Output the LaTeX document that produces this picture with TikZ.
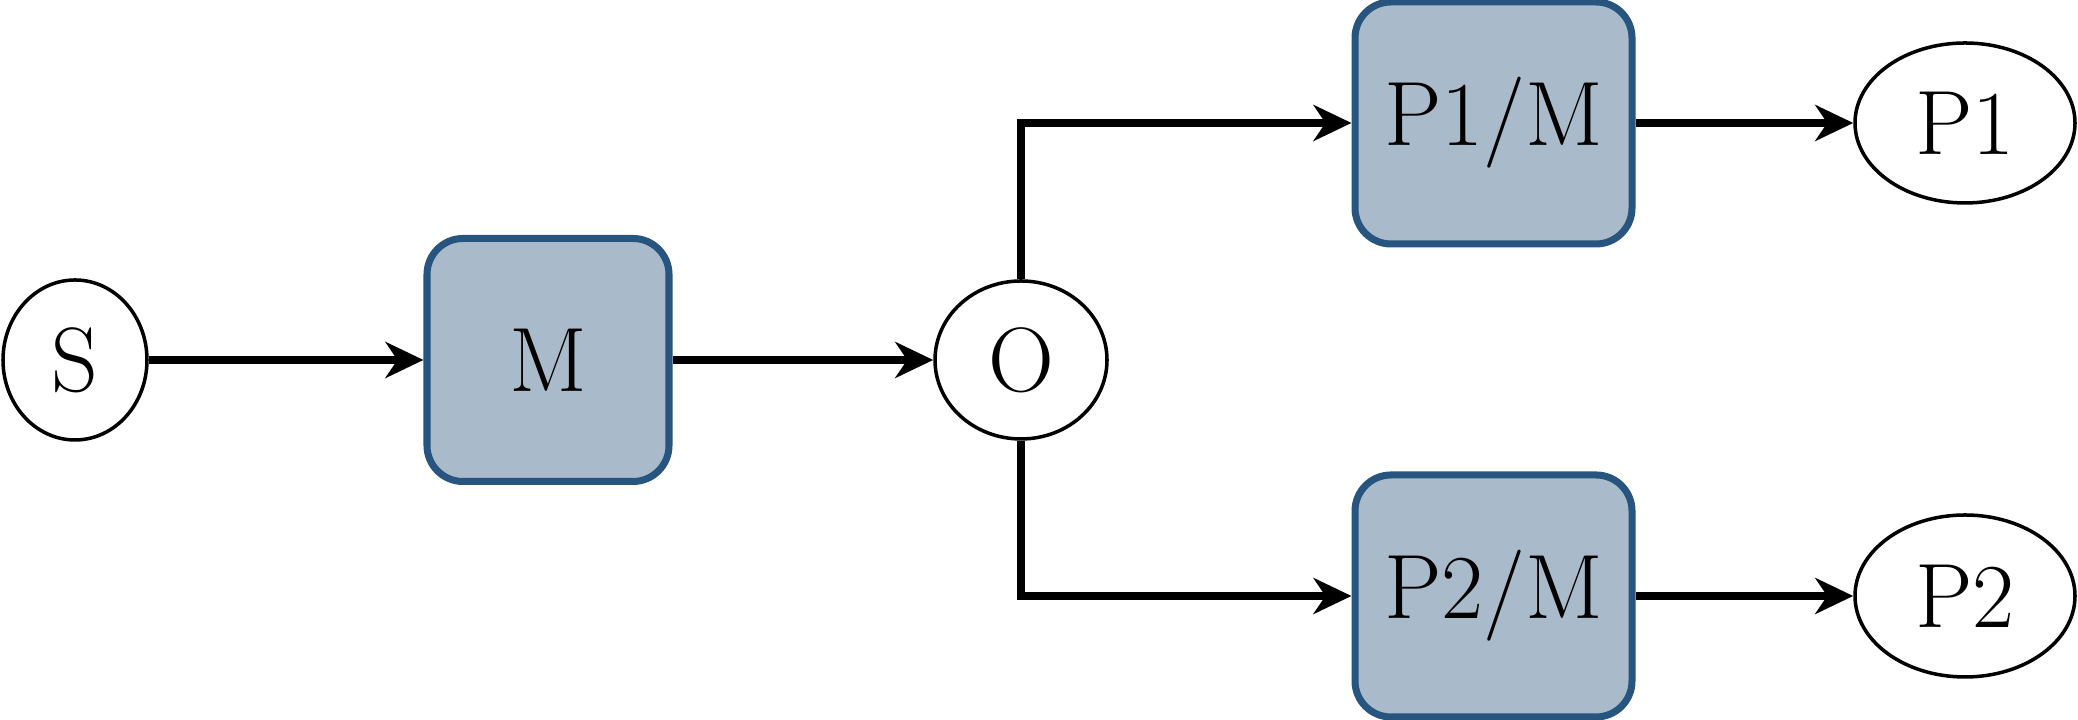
\documentclass[tikz,border=0pt]{standalone}
\usetikzlibrary{shapes.geometric,arrows.meta}
\definecolor{boxfill}{HTML}{A9BBCA}
\definecolor{boxline}{HTML}{27557F}
\begin{document}
\begin{tikzpicture}[>={Stealth[length=3.8mm,width=3.6mm,inset=1.2mm]},
    font=\fontsize{26}{31}\selectfont,
    blk/.style={draw=boxline, fill=boxfill, line width=2pt, rounded corners=3.6mm, inner sep=0pt},
    ell/.style={draw, ellipse, line width=1pt, inner sep=0pt},
    conn/.style={->, line width=2.1pt}]
    \useasboundingbox (0,0) rectangle (20.78,7.2);
    \node[ell, minimum width=1.44cm, minimum height=1.6cm] (S) at (0.75,3.6) {S};
    \node[blk, minimum width=2.42cm, minimum height=2.43cm] (M) at (5.48,3.6) {M};
    \node[ell, minimum width=1.72cm, minimum height=1.58cm] (O) at (10.21,3.6) {O};
    \node[blk, minimum width=2.77cm, minimum height=2.42cm] (P1M) at (14.935,5.97) {P1/M};
    \node[blk, minimum width=2.77cm, minimum height=2.42cm] (P2M) at (14.935,1.24) {P2/M};
    \node[ell, minimum width=2.2cm, minimum height=1.6cm] (P1) at (19.65,5.97) {P1};
    \node[ell, minimum width=2.2cm, minimum height=1.62cm] (P2) at (19.65,1.24) {P2};
    % connectors
    \draw[conn] (S) -- (M);
    \draw[conn] (M) -- (O);
    \draw[conn] (O.north) |- (P1M.west);
    \draw[conn] (O.south) |- (P2M.west);
    \draw[conn] (P1M) -- (P1);
    \draw[conn] (P2M) -- (P2);
\end{tikzpicture}
\end{document}
